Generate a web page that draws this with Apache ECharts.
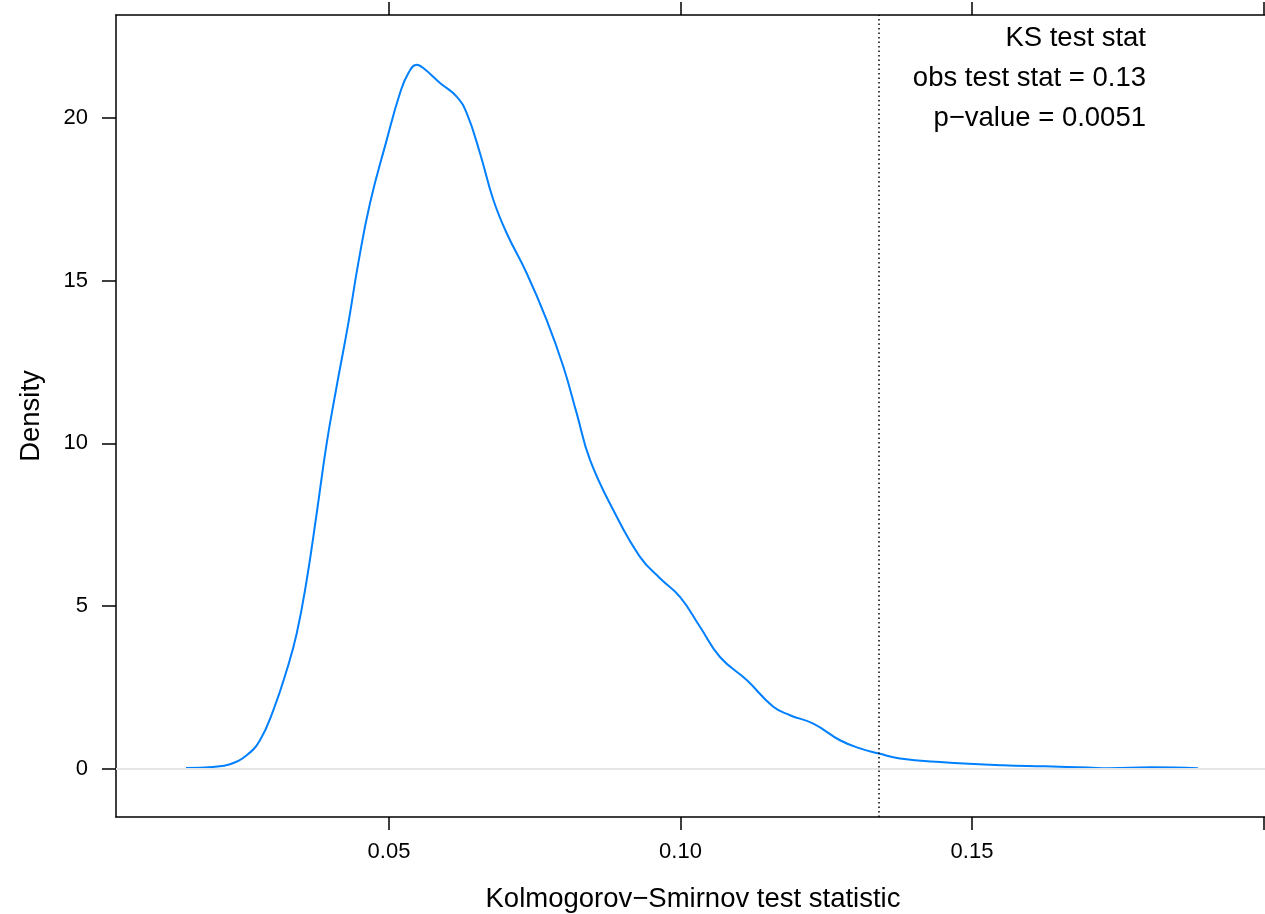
<!DOCTYPE html>
<html>
<head>
<meta charset="utf-8">
<title>KS test statistic density</title>
<script src="https://cdn.jsdelivr.net/npm/echarts@6/dist/echarts.min.js"></script>
<style>
  html, body { margin: 0; padding: 0; background: #ffffff; overflow: hidden; }
  #chart { width: 1265px; height: 914px; }
</style>
</head>
<body>
<div id="chart"></div>
<script>
// Kernel density of the simulated Kolmogorov-Smirnov statistic
const ksStat = [
  0.01518, 0.01981, 0.02273, 0.02559, 0.02787, 0.03015, 0.03245, 0.03417,
  0.03588, 0.03760, 0.03931, 0.04091, 0.04302, 0.04473, 0.04674, 0.04961,
  0.05189, 0.05331, 0.05475, 0.05588, 0.05875, 0.06161, 0.06333, 0.06561,
  0.06789, 0.07019, 0.07362, 0.07705, 0.07990, 0.08220, 0.08448, 0.08847,
  0.09305, 0.09648, 0.09991, 0.10334, 0.10677, 0.11136, 0.11592, 0.11878,
  0.12278, 0.12736, 0.13079, 0.13405, 0.13765, 0.14451, 0.15532, 0.16252,
  0.16990, 0.17350, 0.18070, 0.18877
];
const density = [
  0.02, 0.05, 0.13, 0.41, 0.87, 1.79, 3.02, 4.15,
  5.79, 7.85, 10.00, 11.64, 13.69, 15.54, 17.38, 19.33,
  20.77, 21.38, 21.64, 21.54, 21.08, 20.66, 20.15, 18.92,
  17.49, 16.46, 15.23, 13.79, 12.36, 10.92, 9.49, 7.95,
  6.51, 5.85, 5.28, 4.36, 3.43, 2.72, 1.90, 1.64,
  1.38, 0.87, 0.62, 0.46, 0.31, 0.20, 0.10, 0.07,
  0.03, 0.01, 0.04, 0.01
];

// Observed statistic and summary text
const observedStat = 0.134;
const annotationLines = ['KS test stat', 'obs test stat = 0.13', 'p\u2212value = 0.0051'];

// Axis ticks
const xTicks = [0.05, 0.10, 0.15, 0.20];
const xTickLabels = [0.05, 0.10, 0.15];
const yTicks = [0, 5, 10, 15, 20];

const FONT = '"Liberation Sans", Arial, Helvetica, sans-serif';
const frame = { show: true, onZero: false, lineStyle: { color: '#000000', width: 1.5 } };
const tickStyle = { color: '#000000', width: 1.5 };

// x range: the panel runs past the right edge of the page
const X_MIN = 0.003173;
const X_MAX = 0.20369;

const chart = echarts.init(document.getElementById('chart'), null, { renderer: 'canvas' });

chart.setOption({
  backgroundColor: '#ffffff',
  animation: false,
  textStyle: { fontFamily: FONT },
  grid: { left: 116, top: 15, width: 1169, height: 802,
          containLabel: false, outerBoundsMode: 'none' },
  xAxis: [
    {
      type: 'value',
      position: 'bottom',
      min: X_MIN,
      max: X_MAX,
      axisLine: frame,
      axisTick: { show: true, inside: false, length: 13, customValues: xTicks, lineStyle: tickStyle },
      axisLabel: { show: true, customValues: xTickLabels, margin: 24,
                   fontSize: 22, color: '#000000', fontFamily: FONT,
                   formatter: v => v.toFixed(2) },
      splitLine: { show: false },
      name: 'Kolmogorov\u2212Smirnov test statistic',
      nameLocation: 'middle',
      nameGap: 68,
      nameTextStyle: { fontSize: 27.5, color: '#000000', fontFamily: FONT,
                       padding: [0, 15, 0, 0] }
    },
    {
      type: 'value',
      position: 'top',
      min: X_MIN,
      max: X_MAX,
      axisLine: frame,
      axisTick: { show: true, inside: false, length: 13, customValues: xTicks, lineStyle: tickStyle },
      axisLabel: { show: false },
      splitLine: { show: false }
    }
  ],
  yAxis: {
    type: 'value',
    min: -1.49,
    max: 23.17,
    axisLine: frame,
    axisTick: { show: true, inside: false, length: 14, customValues: yTicks, lineStyle: tickStyle },
    axisLabel: { show: true, customValues: yTicks, margin: 28,
                 fontSize: 22, color: '#000000', fontFamily: FONT },
    splitLine: { show: false },
    name: 'Density',
    nameLocation: 'middle',
    nameGap: 71,
    nameRotate: 90,
    nameTextStyle: { fontSize: 27.5, color: '#000000', fontFamily: FONT }
  },
  series: [
    {
      type: 'line',
      xAxisIndex: 0,
      data: ksStat.map((x, i) => [x, density[i]]),
      smooth: 0.45,
      showSymbol: false,
      symbol: 'none',
      lineStyle: { color: '#0080ff', width: 2 },
      z: 3,
      markLine: {
        silent: true,
        precision: 5,
        symbol: ['none', 'none'],
        label: { show: false },
        data: [
          { yAxis: 0, lineStyle: { color: '#e6e6e6', width: 2, type: 'solid' } },
          { xAxis: observedStat, lineStyle: { color: '#000000', width: 1.5, type: [1.5, 3] } }
        ]
      }
    }
  ],
  graphic: annotationLines.map((t, i) => ({
    type: 'text',
    right: 1265 - 1146,
    top: 24 + i * 40,
    style: {
      text: t,
      fill: '#000000',
      font: '27.5px ' + FONT,
      align: 'right'
    }
  }))
});
</script>
</body>
</html>
